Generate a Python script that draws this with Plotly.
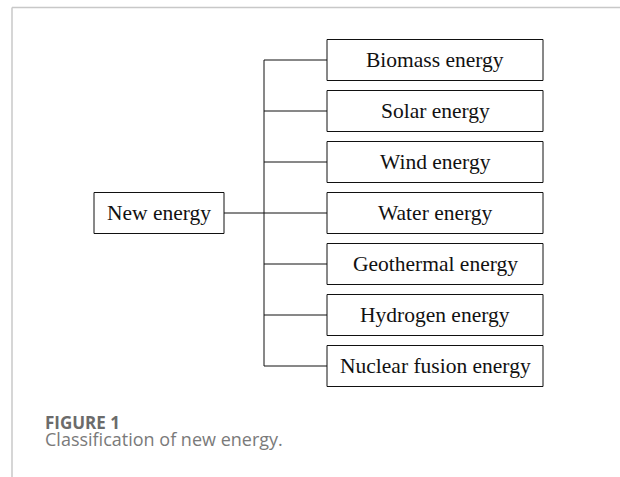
import plotly.graph_objects as go

root_label = "New energy"
categories = ["Biomass energy", "Solar energy", "Wind energy", "Water energy",
              "Geothermal energy", "Hydrogen energy", "Nuclear fusion energy"]
fig_label = "FIGURE 1"
caption = "Classification of new energy."

W, H = 620, 477
# layout geometry (pixels in axis units)
row0, pitch, half_h = 60.0, 51.0, 20.5
box_x0, box_x1 = 327, 543
root_x0, root_x1 = 94, 224
trunk_x = 264
root_row = 3

fig = go.Figure()
shapes = []
annotations = []
line_col = "#111"
serif = dict(family="Liberation Serif, Times New Roman, serif", size=21.5, color="#111")

centers = [row0 + i * pitch for i in range(len(categories))]

for c, lab in zip(centers, categories):
    shapes.append(dict(type="rect", x0=box_x0, x1=box_x1, y0=c - half_h, y1=c + half_h,
                       line=dict(color=line_col, width=1), fillcolor="white", layer="above"))
    shapes.append(dict(type="line", x0=trunk_x, x1=box_x0, y0=c, y1=c,
                       line=dict(color=line_col, width=1)))
    annotations.append(dict(x=(box_x0 + box_x1) / 2, y=c, text=lab, showarrow=False,
                            font=serif, xanchor="center", yanchor="middle"))

rc = centers[root_row]
shapes.append(dict(type="line", x0=trunk_x, x1=trunk_x, y0=centers[0], y1=centers[-1],
                   line=dict(color=line_col, width=1)))
shapes.append(dict(type="line", x0=root_x1, x1=trunk_x, y0=rc, y1=rc,
                   line=dict(color=line_col, width=1)))
shapes.append(dict(type="rect", x0=root_x0, x1=root_x1, y0=rc - half_h, y1=rc + half_h,
                   line=dict(color=line_col, width=1), fillcolor="white"))
annotations.append(dict(x=(root_x0 + root_x1) / 2, y=rc, text=root_label, showarrow=False,
                        font=serif, xanchor="center", yanchor="middle"))

# frame lines
shapes.append(dict(type="line", x0=12, x1=W, y0=7.5, y1=7.5, line=dict(color="#c8c8c8", width=1.5)))
shapes.append(dict(type="line", x0=12, x1=12, y0=7.5, y1=H, line=dict(color="#c8c8c8", width=1.5)))

cap_text = ("<span style='font-size:17px;color:#6b6b6b'><b>" + fig_label + "</b></span><br>"
            "<span style='font-size:18px;color:#7a7a7a'>" + caption + "</span>")
annotations.append(dict(x=43, y=431, text=cap_text, showarrow=False, align="left",
                        font=dict(family="Open Sans, Lato, sans-serif", size=12.7, color="#7a7a7a"),
                        xanchor="left", yanchor="middle"))

fig.update_layout(
    width=W, height=H, margin=dict(l=0, r=0, t=0, b=0),
    paper_bgcolor="white", plot_bgcolor="white",
    xaxis=dict(range=[0, W], visible=False, fixedrange=True),
    yaxis=dict(range=[H, 0], visible=False, fixedrange=True),
    shapes=shapes, annotations=annotations, showlegend=False,
)
fig.write_html("out.html", config={"displayModeBar": False},
               post_script="document.body.style.margin='0px';")
